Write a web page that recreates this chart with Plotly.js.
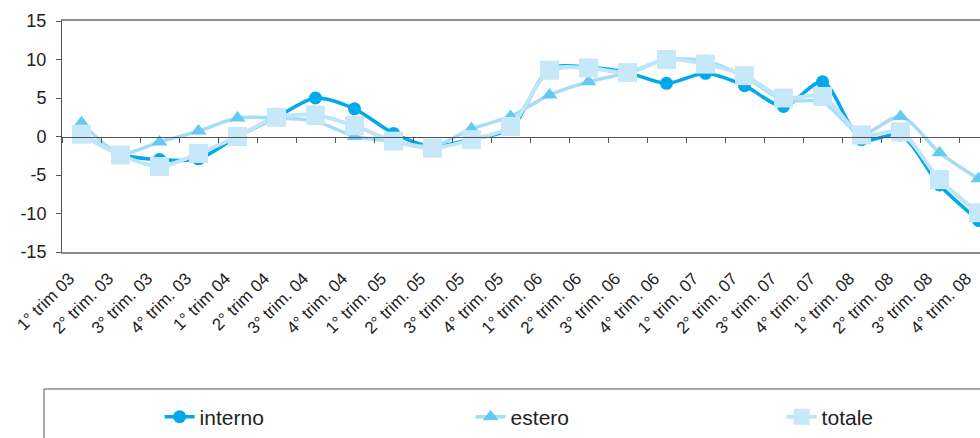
<!DOCTYPE html>
<html>
<head>
<meta charset="utf-8">
<script src="https://cdn.plot.ly/plotly-3.0.1.min.js"></script>
<style>
html,body{margin:0;padding:0;overflow:hidden;background:#fff;}
#chart{width:1000px;height:438px;}
</style>
</head>
<body>
<div id="chart"></div>
<script>
var categories = ["1° trim 03","2° trim. 03","3° trim. 03","4° trim. 03",
  "1° trim 04","2° trim 04","3° trim. 04","4° trim. 04",
  "1° trim. 05","2° trim. 05","3° trim. 05","4° trim. 05",
  "1° trim. 06","2° trim. 06","3° trim. 06","4° trim. 06",
  "1° trim. 07","2° trim. 07","3° trim. 07","4° trim. 07",
  "1° trim. 08","2° trim. 08","3° trim. 08","4° trim. 08"];
var interno = [0.3,-2.3,-3.0,-2.9,0.0,2.5,5.0,3.6,0.4,-1.3,-0.3,1.0,
  8.8,9.0,8.3,6.9,8.2,6.6,3.9,7.1,-0.4,0.2,-6.3,-10.9];
var estero = [1.8,-2.2,-0.7,0.7,2.4,2.4,2.0,0.0,-0.6,-1.3,1.0,2.6,
  5.4,7.1,8.3,10.0,9.8,7.8,4.7,4.5,0.3,2.6,-2.1,-5.5];
var totale = [0.3,-2.4,-3.9,-2.2,0.0,2.5,2.8,1.4,-0.6,-1.5,-0.4,1.3,
  8.6,8.9,8.3,10.0,9.4,7.9,5.0,5.2,0.2,0.6,-5.6,-9.9];
var yTickVals = [-15,-10,-5,0,5,10,15];
var yTickText = ["-15","-10","-5","0","5","10","15"];

var FONT = "'Liberation Sans', Arial, Helvetica, sans-serif";
var traces = [
  {x: categories, y: interno, name: "interno", type: "scatter", mode: "lines+markers",
   line: {color: "#00a9ec", width: 3.5, shape: "spline", smoothing: 0.8},
   marker: {symbol: "circle", size: 13, color: "#00a9ec"}},
  {x: categories, y: estero, name: "estero", type: "scatter", mode: "lines+markers",
   line: {color: "#a6dcf5", width: 3.5, shape: "spline", smoothing: 0.8},
   marker: {symbol: "triangle-up", size: 14, color: "#66c9f2"}},
  {x: categories, y: totale, name: "totale", type: "scatter", mode: "lines+markers",
   line: {color: "#bfe5f8", width: 4, shape: "spline", smoothing: 0.8},
   marker: {symbol: "square", size: 19, color: "#c6e8f9"}},
  {x: categories, y: totale, xaxis: "x2", type: "scatter", mode: "none",
   showlegend: false, hoverinfo: "skip"}
];

var layout = {
  width: 1000, height: 438,
  margin: {l: 62, r: 2, t: 21, b: 186, autoexpand: false},
  paper_bgcolor: "#ffffff", plot_bgcolor: "#ffffff",
  font: {family: FONT, size: 18, color: "#222222"},
  showlegend: true,
  xaxis: {
    type: "category", tickangle: -45, showgrid: false, zeroline: false,
    showline: true, mirror: true, linecolor: "#8c8c8c", linewidth: 2,
    ticks: "", tickfont: {family: FONT, size: 17, color: "#222222"},
    ticklabelshift: -12, ticklabelstandoff: 8,
    range: [-0.5, 23.5], automargin: false
  },
  xaxis2: {
    type: "category", overlaying: "x", matches: "x", anchor: "free", position: 0.5,
    showgrid: false, zeroline: false, showline: true, linecolor: "#555555", linewidth: 1,
    ticks: "outside", tickson: "boundaries", ticklen: 5, tickcolor: "#555555",
    showticklabels: false
  },
  yaxis: {
    range: [-15, 15], tickvals: yTickVals, ticktext: yTickText,
    showgrid: false, zeroline: false, showline: true, linecolor: "#555555", linewidth: 1,
    ticks: "outside", ticklen: 5, tickcolor: "#555555", ticklabelstandoff: 6,
    tickfont: {family: FONT, size: 18, color: "#222222"}, automargin: false
  },
  legend: {
    orientation: "h", x: 0.1043, xanchor: "left", y: -0.626, yanchor: "top",
    bgcolor: "rgba(0,0,0,0)", borderwidth: 0,
    entrywidth: 266, entrywidthmode: "pixels",
    font: {family: FONT, size: 21, color: "#222222"}
  },
  shapes: [
    {type: "rect", xref: "paper", yref: "paper", x0: -0.0192, x1: 1.2, y0: -0.593, y1: -1.2,
     line: {color: "#555555", width: 1}, fillcolor: "rgba(0,0,0,0)"}
  ]
};

Plotly.newPlot("chart", traces, layout, {displayModeBar: false, staticPlot: true});
</script>
</body>
</html>
